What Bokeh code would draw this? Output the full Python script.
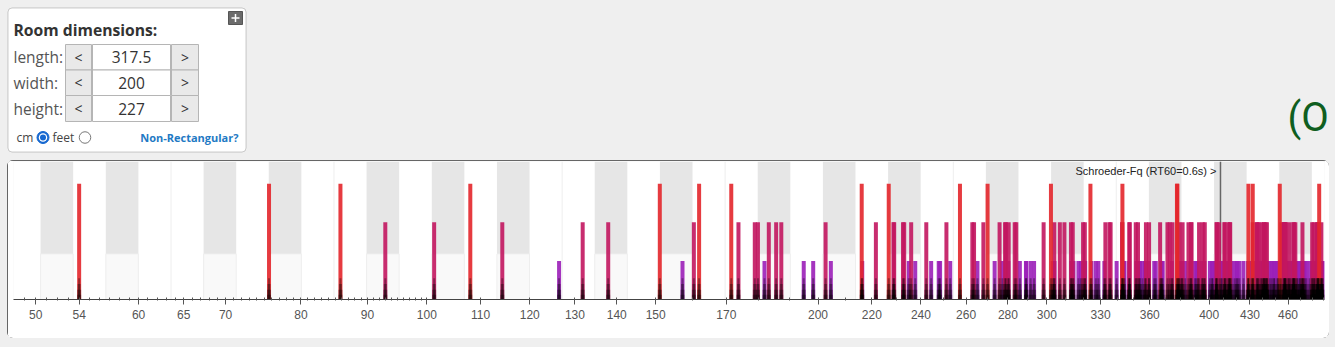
from bokeh.plotting import figure
from bokeh.models import Range1d, FixedTicker, PrintfTickFormatter, BoxAnnotation, Spacer
from bokeh.layouts import column, row
from bokeh.core.properties import value
from bokeh.embed import file_html
from bokeh.resources import INLINE

# ---------------- data (room modes in Hz) ----------------
axial_modes = [54.0, 75.6, 85.8, 108.0, 151.1, 162.0, 171.5, 216.1, 226.7, 257.2, 270.1,
               302.2, 324.1, 343.0, 377.8, 378.1, 428.8, 432.1, 453.3, 486.1]
tangential_modes = [92.9, 101.3, 114.3, 131.8, 137.9, 160.5, 173.7, 178.8, 179.8, 183.3,
                    185.7, 187.4, 202.7, 221.6, 228.6, 228.9, 232.5, 233.0, 235.9, 242.3,
                    251.1, 262.9, 263.7, 268.1, 275.9, 278.6, 279.0, 280.4, 283.4, 284.2,
                    298.3, 304.0, 307.0, 309.5, 313.1, 314.1, 319.9, 320.9, 332.8, 335.2,
                    335.9, 342.9, 342.9, 347.2, 347.5, 351.2, 352.6, 357.6, 359.6, 366.7,
                    371.5, 373.0, 374.8, 379.4, 381.6, 385.6, 387.4, 387.7, 392.9, 395.5,
                    396.9, 405.3, 405.4, 407.2, 411.0, 411.1, 413.8, 414.9, 415.2, 432.1,
                    435.2, 435.4, 436.6, 438.7, 440.6, 440.8, 442.1, 443.1, 454.6, 456.5,
                    457.0, 457.1, 457.3, 457.8, 458.4, 461.3, 464.4, 464.9, 466.0, 471.9,
                    480.1, 481.4, 484.0, 484.7, 485.0, 488.0]
oblique_modes = [126.4, 157.3, 181.9, 195.0, 198.3, 204.6, 216.3, 234.9, 237.6, 244.4, 247.7,
                 248.3, 252.8, 265.3, 273.5, 277.3, 280.2, 286.0, 289.1, 289.3, 291.5, 293.3,
                 303.2, 304.1, 313.3, 314.5, 317.3, 318.7, 321.1, 324.7, 327.2, 328.7, 332.2,
                 339.5, 343.7, 344.3, 347.1, 351.6, 353.5, 353.8, 355.4, 357.0, 359.5, 362.9,
                 363.9, 367.5, 367.7, 368.4, 374.4, 378.7, 379.2, 380.6, 381.3, 383.4, 386.8,
                 390.1, 391.1, 392.1, 395.0, 396.6, 400.5, 402.1, 402.4, 404.7, 405.3, 408.3,
                 409.2, 411.3, 412.4, 414.3, 414.7, 416.1, 418.4, 419.9, 420.6, 422.0, 425.1,
                 428.7, 428.7, 431.1, 432.6, 436.5, 438.7, 440.1, 440.5, 441.8, 441.9, 443.1,
                 443.5, 445.4, 447.0, 448.6, 449.1, 451.3, 451.9, 457.8, 460.2, 460.3, 462.0,
                 463.5, 464.4, 464.5, 464.5, 465.7, 467.3, 467.8, 469.6, 469.7, 471.0, 471.8,
                 472.2, 473.0, 473.8, 475.2, 477.9, 480.0, 481.6, 482.6, 484.9, 485.0, 486.0,
                 487.7, 488.0, 488.9, 489.0]
mode_levels = {"oblique": 1, "tangential": 2, "axial": 3}

black_keys = [51.91, 58.27, 69.30, 77.78, 92.50, 103.83, 116.54, 138.59, 155.56,
              185.00, 207.65, 233.08, 277.18, 311.13, 369.99, 415.30, 466.16]
white_key_bounds = [63.55, 84.82, 127.09, 169.64, 254.18, 339.29]
major_ticks = [50, 54, 60, 65, 70, 80, 90, 100, 110, 120, 130, 140, 150, 170, 200,
               220, 240, 260, 280, 300, 330, 360, 400, 430, 460]
minor_ticks = list(range(48, 100)) + list(range(100, 491, 10))
schroeder_freq = [408.1]
schroeder_label = ["Schroeder-Fq (RT60=0.6s) >"]

dim_labels = ["length:", "width:", "height:"]
dim_values = ["317.5", "200", "227"]

# ---------------- spectrum chart ----------------
YTOP = 3.575
KEY = 1.18
p = figure(width=1322, height=178, x_axis_type="log", x_range=Range1d(48.07, 490.7),
           y_range=Range1d(0, YTOP), output_backend="svg", toolbar_location=None,
           min_border_left=6, min_border_right=5, min_border_top=1, min_border_bottom=39,
           y_axis_location=None, background_fill_color="white", border_fill_color="white",
           outline_line_color=None)
p.grid.visible = False
p.styles = {"outline": "1px solid #333", "outline-offset": "-1px",
            "border-radius": "6px", "overflow": "hidden"}

r = 2 ** (1 / 24)
p.quad(left=[f / r for f in black_keys], right=[f * r for f in black_keys],
       bottom=KEY, top=YTOP, fill_color="#e6e6e6", line_color=None)
p.quad(left=[f / r for f in black_keys], right=[f * r for f in black_keys],
       bottom=0, top=KEY, fill_color="#f9f9f9", line_color="#eeeeee", line_width=1)
p.segment(x0=white_key_bounds, y0=0, x1=white_key_bounds, y1=YTOP,
          line_color="#eeeeee", line_width=1)

p.segment(x0=schroeder_freq, y0=0, x1=schroeder_freq, y1=YTOP,
          line_color="#666666", line_width=1.5)

for vals, lvl, col in [(oblique_modes, "oblique", "#9b1fb8"),
                       (tangential_modes, "tangential", "#c2165f"),
                       (axial_modes, "axial", "#e3262b")]:
    p.segment(x0=vals, y0=0, x1=vals, y1=mode_levels[lvl], line_color=col,
              line_width=4, line_alpha=0.9)
allf = oblique_modes + tangential_modes + axial_modes
for hh, lw in [(0.55, 2.0), (0.4, 3.0), (0.25, 4.0), (0.12, 4.0)]:
    p.segment(x0=allf, y0=0, x1=allf, y1=hh, line_color="black", line_width=lw, line_alpha=0.32)

p.text(x=schroeder_freq, y=[YTOP], text=schroeder_label, x_offset=-4, y_offset=3,
       text_align="right", text_baseline="top", text_font=value("Liberation Sans"),
       text_font_size="11px", text_color="#222222")

p.xaxis.ticker = FixedTicker(ticks=major_ticks, minor_ticks=minor_ticks)
p.xaxis.formatter = PrintfTickFormatter(format="%d")
p.xaxis.axis_line_color = "#444444"
p.xaxis.major_tick_line_color = "#555555"
p.xaxis.minor_tick_line_color = "#555555"
p.xaxis.major_tick_in = 1
p.xaxis.major_tick_out = 5
p.xaxis.minor_tick_in = 2
p.xaxis.minor_tick_out = 1
p.xaxis.major_label_text_font = "Liberation Sans"
p.xaxis.major_label_text_font_size = "12px"
p.xaxis.major_label_text_color = "#555555"

# ---------------- top panel ----------------
row_top = [44, 69.5, 95]
row_bot = [69.5, 95, 121]

top = figure(width=1335, height=160, x_range=Range1d(0, 1335), y_range=Range1d(160, 0),
             output_backend="svg", toolbar_location=None, min_border=0,
             x_axis_location=None, y_axis_location=None, background_fill_color="#efefef",
             border_fill_color="#efefef", outline_line_color=None)
top.grid.visible = False
top.add_layout(BoxAnnotation(left=7.5, right=245.5, top=7.5, bottom=151.5, fill_color="white",
                             fill_alpha=1, line_color="#5a5a5a", line_width=1, border_radius=4,
                             level="underlay"))
top.quad(left=228, right=242, top=11, bottom=24, fill_color="#6b6b6b", line_color="#555555")
top.segment(x0=[231, 235], y0=[17.5, 13.5], x1=[239, 235], y1=[17.5, 21.5],
            line_color="white", line_width=1.5)
top.text(x=[13], y=[29], text=["Room dimensions:"], text_baseline="middle",
         text_font=value("Open Sans"), text_font_style="bold", text_font_size="15.7px",
         text_color="#333333")
mids = [(a + b) / 2 for a, b in zip(row_top, row_bot)]
top.text(x=[13] * 3, y=mids, text=dim_labels, text_baseline="middle",
         text_font=value("Open Sans"), text_font_size="15.5px", text_color="#555555")
top.quad(left=[65] * 3, right=[91] * 3, top=row_top, bottom=row_bot,
         fill_color="#e9e9e9", line_color="#b5b5b5")
top.quad(left=[171] * 3, right=[198] * 3, top=row_top, bottom=row_bot,
         fill_color="#e9e9e9", line_color="#b5b5b5")
top.quad(left=[92] * 3, right=[170] * 3, top=row_top, bottom=row_bot,
         fill_color="white", line_color="#b5b5b5")
top.text(x=[78] * 3, y=mids, text=["<"] * 3, text_align="center", text_baseline="middle",
         text_font=value("Open Sans"), text_font_size="14px", text_color="#333333")
top.text(x=[184.5] * 3, y=mids, text=[">"] * 3, text_align="center", text_baseline="middle",
         text_font=value("Open Sans"), text_font_size="14px", text_color="#333333")
top.text(x=[131] * 3, y=mids, text=dim_values, text_align="center", text_baseline="middle",
         text_font=value("Open Sans"), text_font_size="15.5px", text_color="#333333")
top.text(x=[16, 52], y=[137, 137], text=["cm", "feet"], text_baseline="middle",
         text_font=value("Open Sans"), text_font_size="12px", text_color="#444444")
top.scatter(x=[42.5], y=[137], size=12, fill_color="#1668d0", line_color="#1668d0")
top.scatter(x=[42.5], y=[137], size=8.5, fill_color="white", line_color=None)
top.scatter(x=[42.5], y=[137], size=6, fill_color="#1668d0", line_color=None)
top.scatter(x=[84.5], y=[137], size=11.5, fill_color="white", line_color="#777777")
top.text(x=[238], y=[137], text=["Non-Rectangular?"], text_align="right", text_baseline="middle",
         text_font=value("Open Sans"), text_font_style="bold", text_font_size="11px",
         text_color="#1f7ac4")
top.text(x=[1287], y=[117], text=["(O"], text_baseline="middle",
         text_font=value("Roboto"), text_font_size="40px", text_color="#0f5e20")

layout = column(top, row(Spacer(width=7, height=178), p), Spacer(width=1335, height=9),
                styles={"background-color": "#efefef"})
open("out.html", "w").write(file_html(layout, INLINE))
